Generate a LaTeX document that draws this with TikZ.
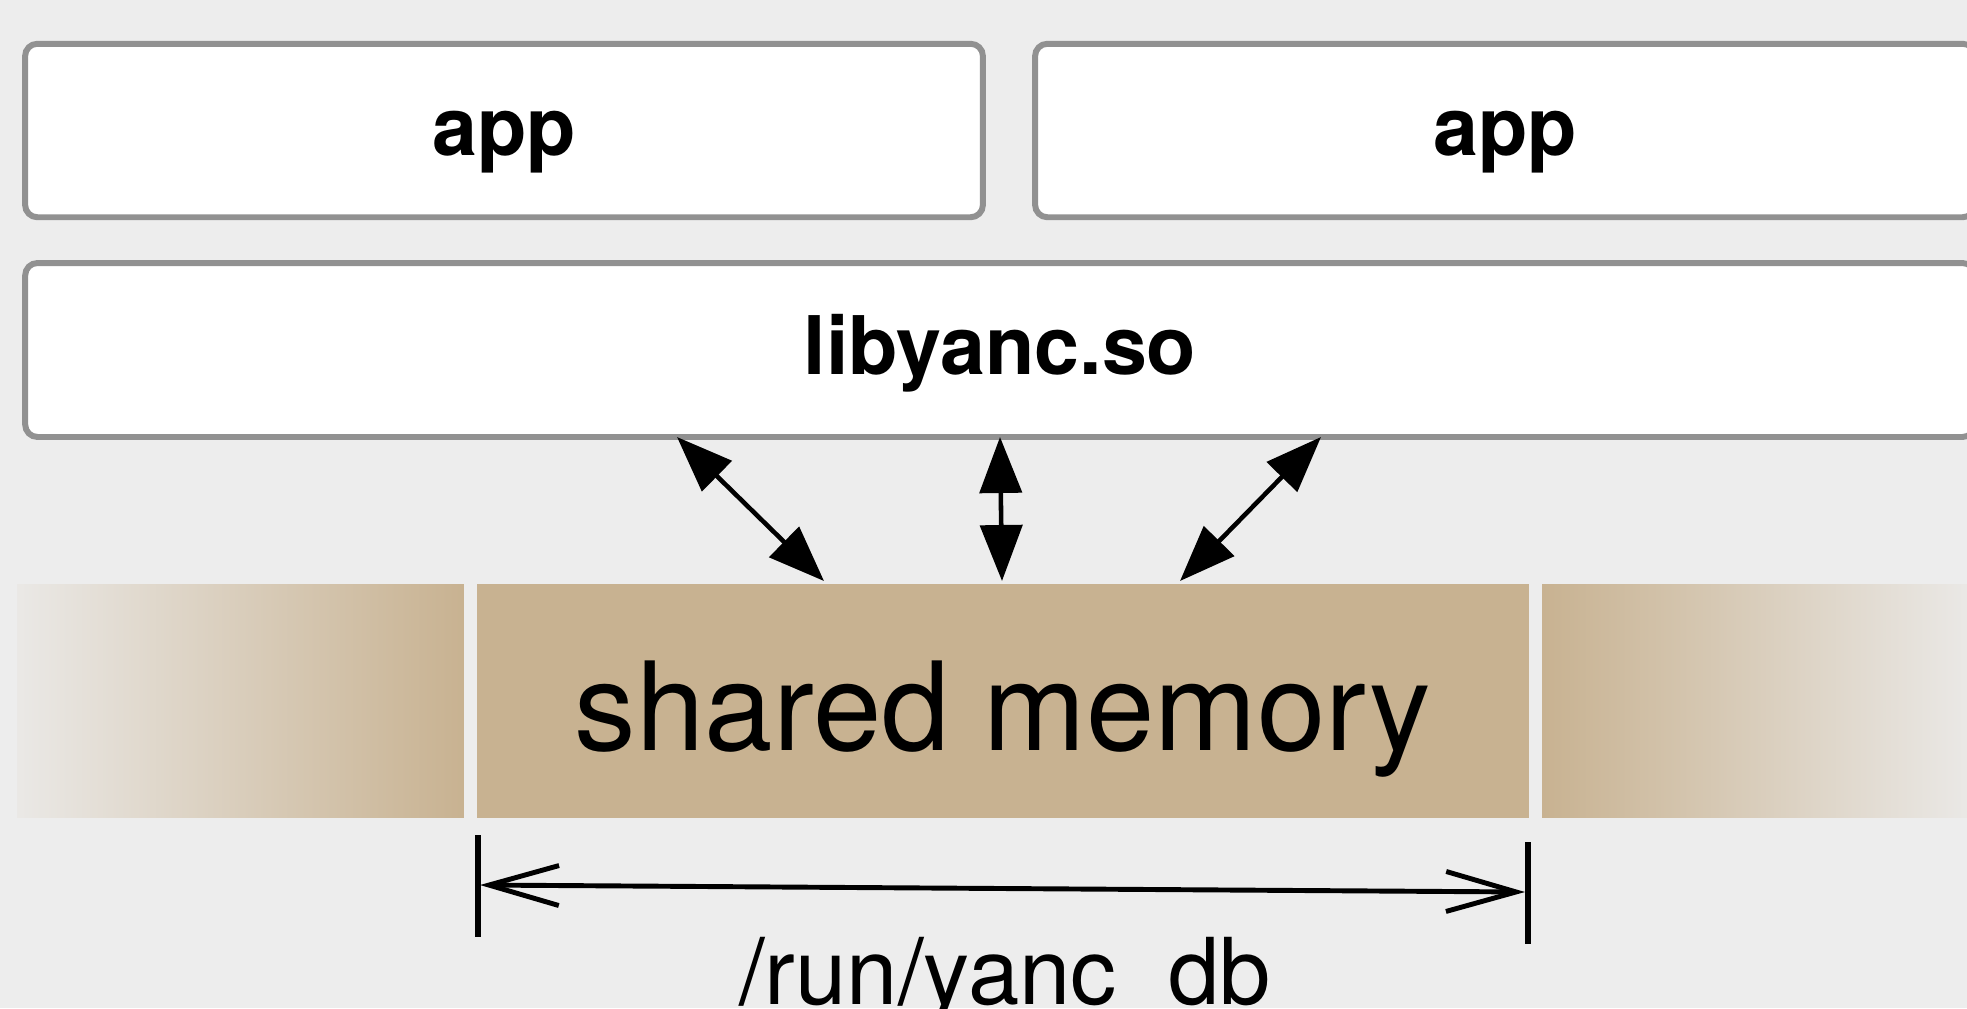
\documentclass[tikz,border=0pt]{standalone}
\usepackage{fontspec}
\setmainfont{TeX Gyre Heros}
\usetikzlibrary{arrows.meta}

\definecolor{paper}{HTML}{EDEDED}
\definecolor{frame}{HTML}{919191}
\definecolor{shmtan}{HTML}{C8B291}

\begin{document}
\begin{tikzpicture}[x=0.02cm,y=-0.02cm,
	box/.style={draw=frame,line width=3.4pt,fill=white,rounded corners=7pt,
		font=\fontsize{46}{55}\selectfont\bfseries,
		text height=0.98cm,text depth=0pt,inner sep=0pt,minimum height=3.47cm},
	band/.style={draw=none,inner sep=0pt,minimum height=4.68cm},
	bothway/.style={line width=2.6pt,<->,>={Triangle[length=1.12cm,width=0.84cm]}},
	dimline/.style={line width=2.8pt,<->,>={Straight Barb[length=1.4cm,width=0.8cm]}},
	dimtick/.style={line width=3.6pt}
	]

\path[use as bounding box,fill=paper] (0,0) rectangle (1967,1008);

% processes and the library
\node[box,minimum width=19.16cm] (app1) at (504,130.5) {app};
\node[box,minimum width=18.8cm] (app2) at (1505,130.5) {app};
\node[box,minimum width=39cm,minimum height=3.48cm] (lib) at (1000,350) {libyanc.so};

% the mapped segment
\node[band,left color=paper!92!shmtan,right color=shmtan,minimum width=8.94cm] (fadeL) at (240.5,701) {};
\node[band,left color=shmtan,right color=paper!92!shmtan,minimum width=8.5cm] (fadeR) at (1754.5,701) {};
\node[band,fill=shmtan,minimum width=21.04cm,text height=1.96cm,text depth=0pt,
	font=\fontsize{70}{84}\selectfont] (shm) at (1003,701) {shared memory};

\coordinate (libA) at (677,437);
\coordinate (libB) at (1000,437);
\coordinate (libC) at (1321,437);
\coordinate (shmA) at (824,581);
\coordinate (shmB) at (1002,581);
\coordinate (shmC) at (1180,581);

\draw[bothway] (libA) -- (shmA);
\draw[bothway] (libB) -- (shmB);
\draw[bothway] (libC) -- (shmC);

% size of the file
\coordinate (tickLt) at (478,835);
\coordinate (tickLb) at (478,937);
\coordinate (tickRt) at (1528,842);
\coordinate (tickRb) at (1528,944);
\coordinate (dimL) at (480,885);
\coordinate (dimR) at (1525,892);

\draw[dimtick] (tickLt) -- (tickLb);
\draw[dimtick] (tickRt) -- (tickRb);
\draw[dimline] (dimL) -- (dimR);

\node[anchor=base,font=\fontsize{52.5}{63}\selectfont,inner sep=0pt] (dbpath) at (1005,1004) {/run/yanc\_db};

\end{tikzpicture}
\end{document}
